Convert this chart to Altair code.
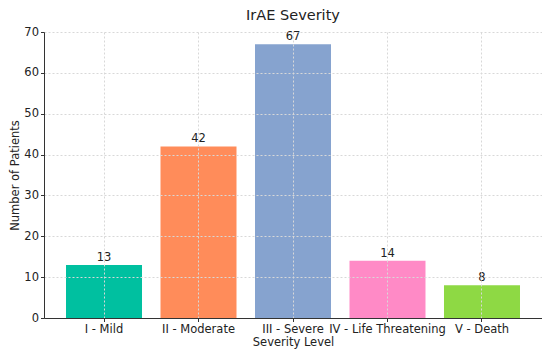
import altair as alt
import pandas as pd

categories = ["I - Mild", "II - Moderate", "III - Severe", "IV - Life Threatening", "V - Death"]
counts = [13, 42, 67, 14, 8]
colors = ["#00C0A0", "#FF8C5A", "#86A3CF", "#FF8AC6", "#8ED944"]

df = pd.DataFrame({"level": categories, "count": counts})

font = "DejaVu Sans"
fs = 11.5

x_enc = alt.X("level:N", sort=categories, title="Severity Level",
              scale=alt.Scale(paddingInner=0.2, paddingOuter=0.235),
              axis=alt.Axis(labelAngle=0, labelFontSize=fs, titleFontSize=fs,
                            labelColor="#222", titleColor="#222",
                            grid=True, gridDash=[2, 2], gridColor="#d8d8d8",
                            domainColor="#333", tickColor="#333", tickSize=3.5,
                            labelPadding=2, titlePadding=1, zindex=1,
                            labelFont=font, titleFont=font, titleFontWeight="normal"))
y_enc = alt.Y("count:Q", title="Number of Patients",
              scale=alt.Scale(domain=[0, 70], nice=False),
              axis=alt.Axis(values=list(range(0, 71, 10)), labelFontSize=fs, titleFontSize=fs,
                            labelColor="#222", titleColor="#222",
                            grid=True, gridDash=[2, 2], gridColor="#d8d8d8",
                            domainColor="#333", tickColor="#333", tickSize=3.5,
                            labelPadding=2, titlePadding=3, zindex=1,
                            labelFont=font, titleFont=font, titleFontWeight="normal"))

base = alt.Chart(df)

bars = base.mark_bar(size=76).encode(
    x=x_enc,
    y=y_enc,
    color=alt.Color("level:N", sort=categories,
                    scale=alt.Scale(domain=categories, range=colors), legend=None),
)

labels = base.mark_text(dy=-7, fontSize=fs, font=font, color="#222").encode(
    x=alt.X("level:N", sort=categories),
    y=alt.Y("count:Q"),
    text=alt.Text("count:Q"),
)

chart = alt.layer(bars, labels).properties(
    width=498, height=286,
    title=alt.TitleParams("IrAE Severity", fontSize=14.5, font=font, fontWeight="normal",
                          color="#222", offset=3),
    padding={"left": 36, "top": 24, "right": 0, "bottom": 32},
    autosize="none",
).configure_view(stroke=None)

chart.save("out.html", embed_options={"renderer": "svg", "actions": False})
